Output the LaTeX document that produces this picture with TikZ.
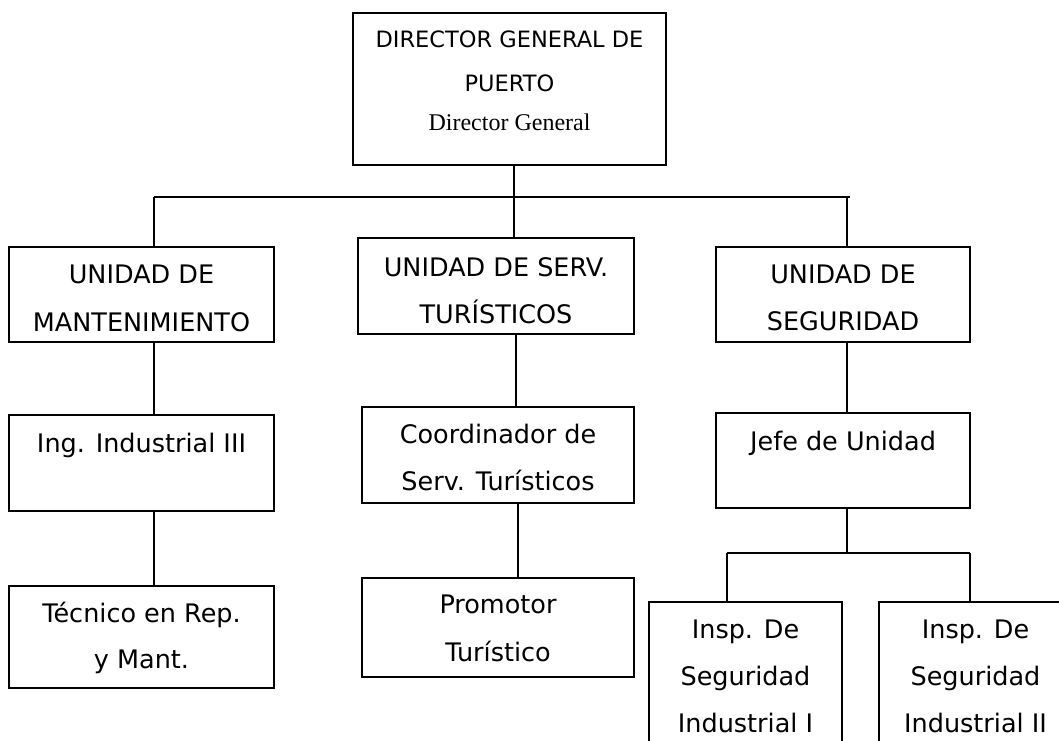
\documentclass[tikz,border=0pt]{standalone}
\usepackage{fontspec}
\setmainfont{DejaVu Sans}
\newfontfamily\timesfont{Liberation Serif}

\tikzset{
  unitbox/.style={draw, line width=1.8pt, inner sep=0pt, outer sep=0pt},
  txt/.style={anchor=base, inner sep=0pt, font=\fontsize{25.5}{30}\selectfont},
  dirtxt/.style={anchor=base, inner sep=0pt, font=\fontsize{22.5}{27}\selectfont},
  link/.style={line width=1.3pt},
  bar/.style={line width=1.8pt}
}

\begin{document}
\begin{tikzpicture}[x=1pt, y=-1pt]
\useasboundingbox (0,0) rectangle (1059,740);

% boxes
\node [unitbox, minimum width=313, minimum height=152] (dir) at (509.5,89) {};
\node [unitbox, minimum width=265, minimum height=95] (mant) at (141.5,294.5) {};
\node [unitbox, minimum width=276, minimum height=96] (serv) at (496,286) {};
\node [unitbox, minimum width=254, minimum height=95] (seg) at (843,294.5) {};
\node [unitbox, minimum width=265, minimum height=96] (ing) at (141.5,463) {};
\node [unitbox, minimum width=265, minimum height=102] (tec) at (141.5,637) {};
\node [unitbox, minimum width=272, minimum height=96] (coord) at (498,455) {};
\node [unitbox, minimum width=272, minimum height=99] (prom) at (498,627.5) {};
\node [unitbox, minimum width=254, minimum height=95] (jefe) at (843,460.5) {};
\node [unitbox, minimum width=193, minimum height=180] (insp1) at (745.5,692) {};
\node [unitbox, minimum width=193, minimum height=180] (insp2) at (975.5,692) {};

% texts
\node [dirtxt] (dir1) at (509.5,47) {DIRECTOR GENERAL DE};
\node [dirtxt] (dir2) at (509.5,91) {PUERTO};
\node [anchor=base, inner sep=0pt, font=\timesfont\fontsize{24}{28}\selectfont] (dir3) at (509.5,130) {Director General};
\foreach \x / \y / \t [count=\i] in {141.5/283/UNIDAD DE, 141.5/331/MANTENIMIENTO,
    496/276/UNIDAD DE SERV., 496/323/TURÍSTICOS,
    843/283/UNIDAD DE, 843/330/SEGURIDAD,
    141.5/452/Ing. Industrial III,
    141.5/622/Técnico en Rep., 141.5/668/y Mant.,
    498/443/Coordinador de, 498/490/Serv. Turísticos,
    498/613/Promotor, 498/661/Turístico,
    843/450/Jefe de Unidad,
    745.5/638/Insp. De, 745.5/685/Seguridad, 745.5/732/Industrial I,
    975.5/638/Insp. De, 975.5/685/Seguridad, 975.5/732/Industrial II}{
    \node [txt] (line\i) at (\x,\y) {\t};
}

% connectors
\coordinate (colA) at (154,0);
\coordinate (colB) at (514,0);
\coordinate (colM1) at (516,0);
\coordinate (colM2) at (518,0);
\coordinate (colC) at (847,0);
\coordinate (barL) at (154,197);
\coordinate (barR) at (850,197);
\coordinate (subL) at (727,553);
\coordinate (subR) at (970,553);

\draw [bar] (barL) -- (barR);
\draw [link] (colB |- dir.south) -- (colB |- serv.north);
\draw [link] (barL) -- (barL |- mant.north);
\draw [link] (colC |- barR) -- (colC |- seg.north);

\draw [link] (colA |- mant.south) -- (colA |- ing.north);
\draw [link] (colA |- ing.south) -- (colA |- tec.north);
\draw [link] (colM1 |- serv.south) -- (colM1 |- coord.north);
\draw [link] (colM2 |- coord.south) -- (colM2 |- prom.north);
\draw [link] (colC |- seg.south) -- (colC |- jefe.north);
\draw [link] (colC |- jefe.south) -- (colC |- subL);

\draw [bar] (subL) -- (subR);
\draw [link] (subL) -- (subL |- insp1.north);
\draw [link] (subR) -- (subR |- insp2.north);

\end{tikzpicture}
\end{document}
